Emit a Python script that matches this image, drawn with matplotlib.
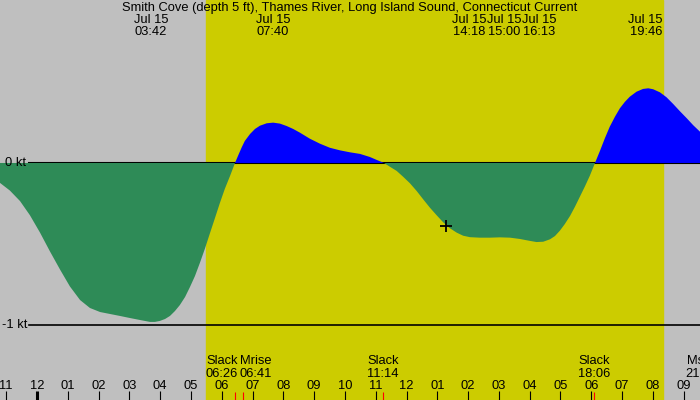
import matplotlib
matplotlib.use("Agg")
import matplotlib.pyplot as plt
import numpy as np

plt.rcParams['font.family'] = ['Liberation Sans', 'DejaVu Sans']

title = "Smith Cove (depth 5 ft), Thames River, Long Island Sound, Connecticut Current"

# hours since midnight Jul 15, and current speed in knots (+ flood, - ebb)
hours = [-1.20, -0.88, -0.55, -0.23, 0.10, 0.42, 0.75, 1.07, 1.40, 1.72,
         2.05, 2.37, 2.69, 3.02, 3.34, 3.67, 3.83, 3.99, 4.16, 4.32, 4.48,
         4.64, 4.81, 4.97, 5.13, 5.29, 5.45, 5.62, 5.78, 5.94, 6.10, 6.27,
         6.43, 6.54, 6.65, 6.75, 6.92, 7.08, 7.24, 7.46, 7.67, 7.89, 8.11,
         8.32, 8.54, 8.86, 9.19, 9.51, 9.84, 10.16, 10.49, 10.81, 11.03,
         11.27, 11.46, 11.68, 11.89, 12.11, 12.33, 12.54, 12.76, 12.98,
         13.19, 13.41, 13.63, 13.84, 14.06, 14.38, 14.71, 15.03, 15.36,
         15.68, 16.01, 16.22, 16.44, 16.66, 16.82, 16.98, 17.14, 17.31,
         17.47, 17.63, 17.79, 17.95, 18.12, 18.28, 18.44, 18.60, 18.77,
         18.93, 19.09, 19.25, 19.47, 19.68, 19.85, 20.01, 20.23, 20.44,
         20.66, 20.88, 21.10, 21.31, 21.53]
speed = [-0.123, -0.170, -0.235, -0.322, -0.430, -0.545, -0.658, -0.762,
         -0.846, -0.895, -0.920, -0.932, -0.944, -0.957, -0.969, -0.981,
         -0.981, -0.975, -0.963, -0.944, -0.914, -0.877, -0.827, -0.765,
         -0.698, -0.617, -0.531, -0.432, -0.340, -0.247, -0.160, -0.080,
         0.0, 0.049, 0.097, 0.136, 0.179, 0.210, 0.230, 0.245, 0.249, 0.243,
         0.228, 0.210, 0.187, 0.150, 0.119, 0.094, 0.078, 0.066, 0.056,
         0.037, 0.019, 0.0, -0.023, -0.049, -0.085, -0.125, -0.173, -0.224,
         -0.276, -0.323, -0.366, -0.403, -0.430, -0.449, -0.458, -0.461,
         -0.461, -0.459, -0.461, -0.469, -0.481, -0.488, -0.486, -0.471,
         -0.451, -0.418, -0.377, -0.327, -0.270, -0.208, -0.146, -0.080,
         0.0, 0.074, 0.152, 0.224, 0.286, 0.338, 0.377, 0.409, 0.440, 0.457,
         0.461, 0.455, 0.436, 0.406, 0.364, 0.319, 0.276, 0.233, 0.193]

# labelled max/min current times (top of chart)
peak_times = ["03:42", "07:40", "14:18", "15:00", "16:13", "19:46"]
peak_date = "Jul 15"

# events along the bottom
event_names = ["Slack", "Mrise", "Slack", "Slack", "Mset"]
event_times = ["06:26", "06:41", "11:14", "18:06", "21:34"]

sunrise, sunset = "05:29", "20:20"
now_time, now_speed = "13:17", -0.39

x_min, x_max = -1.20, 21.53
y_min, y_max = -1.463, 1.006
fs = 9.3


def to_h(s):
    hh, mm = s.split(":")
    return int(hh) + int(mm) / 60


def spread(xs, gap):
    xs = list(xs)
    for _ in range(60):
        for i in range(len(xs) - 1):
            if xs[i + 1] - xs[i] < gap:
                m = (xs[i] + xs[i + 1]) / 2
                xs[i], xs[i + 1] = m - gap / 2, m + gap / 2
    return xs


fig = plt.figure(figsize=(7, 4), dpi=100)
ax = fig.add_axes([0, 0, 1, 1])
ax.set_xlim(x_min, x_max)
ax.set_ylim(y_min, y_max)
ax.axis('off')
fig.patch.set_facecolor('#bfbfbf')

ax.axvspan(to_h(sunrise), to_h(sunset), color='#cccc00', zorder=0)

xt = ax.get_xaxis_transform()
ax.plot([-0.25, x_max], [0, 0], color='black', lw=1.5, zorder=1)
ax.plot([-0.25, x_max], [-1, -1], color='black', lw=1.2, zorder=1)

t = np.array(hours)
v = np.array(speed)
ax.fill_between(t, v, 0, where=v <= 0, interpolate=True, color='#2e8b57', lw=0, zorder=2)
ax.fill_between(t, v, 0, where=v >= 0, interpolate=True, color='#0000ff', lw=0, zorder=2)

ax.text(x_min + 0.17, 0, "0 kt", fontsize=fs, va='center', ha='left', zorder=5)
ax.text(x_min + 0.08, -1, "-1 kt", fontsize=fs, va='center', ha='left', zorder=5)

ax.plot([to_h(now_time)], [now_speed], marker='+', color='black', ms=9, mew=1.3, zorder=6)

ax.text(0.5, 0.981, title, transform=ax.transAxes, fontsize=fs, ha='center', va='center')
tops = spread([to_h(s) for s in peak_times], 1.14)
for xp, s in zip(tops, peak_times):
    ax.text(xp, 0.951, peak_date, transform=xt, fontsize=fs, ha='center', va='center')
    ax.text(xp, 0.921, s, transform=xt, fontsize=fs, ha='center', va='center')

# hour ticks
for h in range(-1, 22):
    lab = "%02d" % (h % 12 if h % 12 else 12)
    ax.vlines(h, 0, 0.0225, transform=xt, color='black', lw=2.2 if h == 0 else 0.8)
    ax.text(h, 0.036, lab, transform=xt, fontsize=fs, ha='center', va='center')

bots = spread([to_h(s) for s in event_times], 1.1)
for xp, name, s in zip(bots, event_names, event_times):
    ax.vlines(to_h(s), 0, 0.02, transform=xt, color='red', lw=0.8)
    ax.text(xp, 0.0975, name, transform=xt, fontsize=fs, ha='center', va='center')
    ax.text(xp, 0.065, s, transform=xt, fontsize=fs, ha='center', va='center')

fig.savefig("out.png", dpi=100, facecolor=fig.get_facecolor())
